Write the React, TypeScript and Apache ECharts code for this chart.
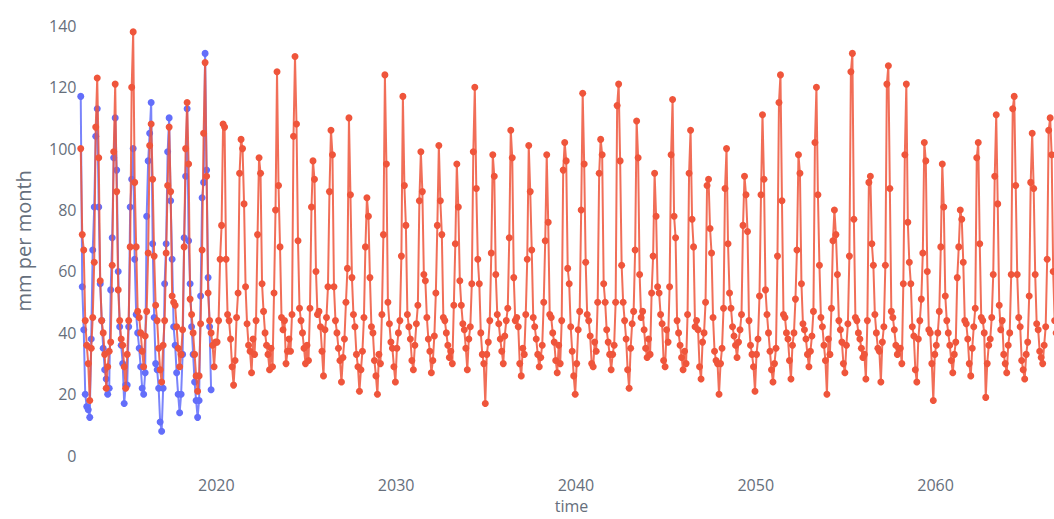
import React, { useEffect, useRef } from "react";
import * as echarts from "echarts";

// Monthly precipitation (mm per month). Both series start in June 2012.
const START_YEAR = 2012;
const START_MONTH = 5; // June (0-based)

// Observed series (blue), Jun 2012 - Sep 2019
const observed2012 = [117, 55, 41, 20, 16, 15, 12.5];
const observed2013 = [38, 67, 81, 104, 113, 81, 56, 44, 35, 28, 25, 20];
const observed2014 = [22, 54, 71, 97, 110, 93, 60, 42, 36, 30, 17, 23];
const observed2015 = [23, 42, 81, 90, 100, 64, 46, 40, 35, 29, 22, 20];
const observed2016 = [27, 78, 96, 105, 115, 69, 45, 30, 28, 22, 11, 8];
const observed2017 = [22, 56, 69, 99, 110, 83, 64, 42, 36, 27, 20, 14];
const observed2018 = [20, 33, 71, 91, 113, 70, 56, 42, 33, 24, 18, 12.5];
const observed2019 = [18, 52, 84, 89, 131, 93, 58, 42, 21.5];

// Projected series (red), Jun 2012 - Oct 2066
const projected2010s = [
  100, 72, 67, 44, 36, 30, 18,
  35, 45, 63, 107, 123, 97, 57, 44, 40, 33, 22, 29,
  34, 37, 62, 99, 121, 86, 54, 44, 38, 36, 29, 22,
  33, 44, 68, 120, 138, 89, 68, 47, 45, 40, 34, 29,
  39, 47, 66, 101, 108, 90, 65, 49, 44, 35, 28, 24,
  36, 44, 66, 88, 107, 86, 52, 50, 49, 42, 35, 29,
  33, 41, 68, 100, 115, 95, 51, 46, 40, 33, 26, 21,
  26, 43, 67, 105, 128, 91, 53, 44, 40, 36, 29, 37,
];
const projected2020s = [
  37, 44, 64, 75, 108, 107, 64, 46, 44, 38, 29, 23,
  31, 45, 53, 92, 103, 100, 82, 55, 43, 36, 34, 27,
  38, 33, 44, 72, 97, 92, 56, 47, 40, 36, 33, 28,
  35, 29, 53, 80, 125, 88, 68, 45, 41, 44, 30, 34,
  38, 34, 46, 104, 130, 108, 70, 48, 44, 40, 35, 30,
  36, 31, 48, 81, 96, 90, 60, 46, 47, 42, 34, 26,
  41, 45, 55, 86, 106, 98, 55, 44, 40, 35, 31, 24,
  32, 38, 50, 61, 110, 85, 58, 46, 42, 33, 29, 21,
  28, 34, 45, 68, 84, 78, 58, 42, 40, 31, 26, 20,
  33, 30, 46, 72, 124, 95, 50, 43, 37, 35, 29, 24,
];
const projected2030s = [
  35, 40, 44, 65, 117, 88, 75, 46, 42, 38, 31, 28,
  36, 43, 49, 83, 99, 86, 59, 57, 45, 38, 34, 27,
  31, 39, 53, 75, 101, 83, 72, 45, 44, 40, 36, 32,
  34, 30, 49, 69, 95, 81, 57, 49, 43, 41, 35, 28,
  38, 42, 56, 99, 120, 87, 64, 56, 40, 33, 30, 17,
  33, 37, 44, 66, 98, 91, 59, 46, 43, 38, 34, 30,
  39, 44, 48, 71, 106, 97, 58, 44, 45, 42, 30, 26,
  35, 33, 46, 64, 101, 86, 67, 45, 42, 38, 33, 29,
  32, 36, 50, 70, 98, 76, 46, 45, 40, 37, 31, 27,
  36, 30, 44, 93, 102, 96, 61, 56, 42, 34, 26, 20,
];
const projected2040s = [
  30, 41, 47, 80, 118, 95, 63, 46, 44, 39, 30, 29,
  37, 34, 50, 92, 103, 98, 56, 50, 41, 37, 33, 28,
  33, 36, 50, 114, 121, 96, 62, 50, 44, 38, 28, 22,
  35, 43, 47, 67, 109, 97, 59, 45, 47, 41, 35, 32,
  38, 33, 53, 65, 92, 78, 55, 53, 46, 43, 31, 29,
  41, 37, 55, 98, 116, 78, 71, 44, 40, 36, 32, 28,
  34, 30, 46, 92, 106, 77, 68, 42, 44, 41, 29, 25,
  37, 40, 50, 88, 90, 74, 66, 45, 34, 31, 30, 20,
  30, 35, 48, 87, 100, 69, 53, 48, 42, 39, 36, 32,
  37, 41, 46, 75, 91, 85, 73, 44, 36, 33, 29, 21,
];
const projected2050s = [
  33, 38, 52, 85, 111, 90, 54, 46, 40, 34, 28, 24,
  30, 35, 65, 115, 124, 83, 46, 45, 40, 38, 31, 25,
  36, 40, 51, 67, 98, 92, 56, 43, 41, 38, 33, 29,
  34, 39, 47, 102, 120, 85, 62, 45, 42, 36, 31, 20,
  38, 33, 48, 70, 80, 72, 59, 44, 41, 37, 30, 27,
  36, 43, 65, 125, 131, 77, 45, 44, 40, 38, 35, 32,
  33, 25, 44, 89, 91, 69, 62, 46, 40, 35, 34, 24,
  37, 42, 62, 121, 127, 87, 47, 45, 41, 36, 33, 35,
  35, 30, 56, 98, 121, 76, 63, 56, 42, 39, 28, 24,
  38, 44, 51, 66, 102, 96, 60, 41, 40, 30, 18, 33,
];
const projected2060s = [
  36, 40, 47, 68, 95, 81, 52, 44, 40, 36, 31, 27,
  33, 37, 58, 68, 80, 77, 63, 44, 43, 38, 30, 26,
  35, 42, 48, 97, 102, 69, 45, 44, 40, 19, 30, 36,
  38, 45, 59, 91, 111, 82, 49, 41, 44, 33, 30, 27,
  36, 40, 59, 113, 117, 88, 59, 45, 42, 31, 28, 25,
  33, 37, 52, 89, 105, 87, 59, 43, 41, 34, 32, 30,
  36, 42, 64, 106, 110, 98, 60, 44, 40, 35,
];

const X_TICK_LABELS = [2020, 2030, 2040, 2050, 2060];
const Y_TICK_LABELS = [0, 20, 40, 60, 80, 100, 120, 140];

const observedValues = [
  ...observed2012, ...observed2013, ...observed2014, ...observed2015,
  ...observed2016, ...observed2017, ...observed2018, ...observed2019,
];
const projectedValues = [
  ...projected2010s, ...projected2020s, ...projected2030s,
  ...projected2040s, ...projected2050s, ...projected2060s,
];

const toPoints = (vals: number[]) =>
  vals.map((v, i) => [START_YEAR + (START_MONTH + i + 0.5) / 12, v]);

const isTick = (v: number, list: number[]) =>
  Math.abs(v - Math.round(v)) < 1e-6 && list.includes(Math.round(v));

const TEXT = "#666f7c";
const FONT = "'Open Sans', 'DejaVu Sans', sans-serif";

export default function App() {
  const ref = useRef<HTMLDivElement>(null);
  useEffect(() => {
    if (!ref.current) return;
    const chart = echarts.init(ref.current, undefined, { renderer: "svg" });
    chart.setOption({
      animation: false,
      backgroundColor: "#ffffff",
      grid: { left: 72.5, right: 29.6, top: 10.4, bottom: 40.4, containLabel: false },
      xAxis: {
        type: "value",
        min: 2012,
        max: 2067.5,
        interval: 2,
        axisLine: { show: false },
        axisTick: { show: false },
        splitLine: { show: false },
        axisLabel: {
          margin: 6,
          color: TEXT,
          fontSize: 16,
          fontFamily: FONT,
          showMaxLabel: false,
          formatter: (v: number) => (isTick(v, X_TICK_LABELS) ? String(Math.round(v)) : ""),
        },
        name: "time",
        nameLocation: "middle",
        nameGap: 23,
        nameTextStyle: { color: TEXT, fontSize: 16, fontFamily: FONT },
      },
      yAxis: {
        type: "value",
        min: -5,
        max: 145,
        interval: 5,
        axisLine: { show: false },
        axisTick: { show: false },
        splitLine: { show: false },
        axisLabel: {
          margin: -4,
          color: TEXT,
          fontSize: 16,
          fontFamily: FONT,
          formatter: (v: number) => (isTick(v, Y_TICK_LABELS) ? String(Math.round(v)) : ""),
        },
        name: "mm per month",
        nameLocation: "middle",
        nameGap: 39,
        nameTextStyle: { color: TEXT, fontSize: 20, fontFamily: FONT },
      },
      series: [
        {
          name: "observed",
          type: "line",
          data: toPoints(observedValues),
          symbol: "circle",
          symbolSize: 7,
          showAllSymbol: true,
          color: "#636EFA",
          lineStyle: { width: 2, color: "#636EFA", opacity: 0.85 },
          itemStyle: { color: "#636EFA" },
          z: 2,
        },
        {
          name: "projected",
          type: "line",
          data: toPoints(projectedValues),
          symbol: "circle",
          symbolSize: 7,
          showAllSymbol: true,
          color: "#EF553B",
          lineStyle: { width: 2, color: "#EF553B", opacity: 0.85 },
          itemStyle: { color: "#EF553B" },
          z: 3,
        },
      ],
    });
    return () => chart.dispose();
  }, []);
  return (
    <div style={{ position: "fixed", left: 0, top: 0, width: 1054, height: 519, overflow: "hidden", background: "#fff" }}>
      <div ref={ref} style={{ width: 1100, height: 519 }} />
    </div>
  );
}
